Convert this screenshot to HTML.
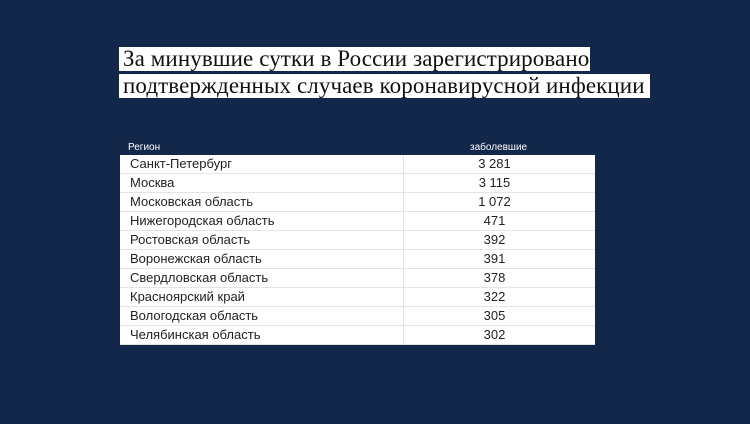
<!DOCTYPE html>
<html><head><meta charset="utf-8"><style>
body{margin:0;width:750px;height:424px;background:#13274a;position:relative;overflow:hidden;font-family:"Liberation Sans","DejaVu Sans",sans-serif}
.t{position:absolute;left:119px;background:#fff;color:#111;font-family:"Liberation Serif","DejaVu Serif",serif;font-size:23px;line-height:24px;padding:0 4px;white-space:nowrap;letter-spacing:0.1px}
.h{position:absolute;top:142px;color:#fff;font-size:10px}
table{position:absolute;left:120px;top:155px;width:475px;border-collapse:collapse;background:#fff}
td{height:18px;border-bottom:1px solid #e4e4e4;font-size:13px;color:#222;padding:0;line-height:18px}
td:first-child{padding-left:10px;width:273px;border-right:1px solid #e4e4e4}
td:last-child{text-align:center;padding-right:10px}
</style></head><body>
<div class="t" style="top:47px;width:463px">За минувшие сутки в России зарегистрировано</div>
<div class="t" style="top:74px;width:523px">подтвержденных случаев коронавирусной инфекции</div>
<div class="h" style="left:128px">Регион</div>
<div class="h" style="left:470px">заболевшие</div>
<table>
<tr><td>Санкт-Петербург</td><td>3 281</td></tr>
<tr><td>Москва</td><td>3 115</td></tr>
<tr><td>Московская область</td><td>1 072</td></tr>
<tr><td>Нижегородская область</td><td>471</td></tr>
<tr><td>Ростовская область</td><td>392</td></tr>
<tr><td>Воронежская область</td><td>391</td></tr>
<tr><td>Свердловская область</td><td>378</td></tr>
<tr><td>Красноярский край</td><td>322</td></tr>
<tr><td>Вологодская область</td><td>305</td></tr>
<tr><td>Челябинская область</td><td>302</td></tr>
</table>
</body></html>
